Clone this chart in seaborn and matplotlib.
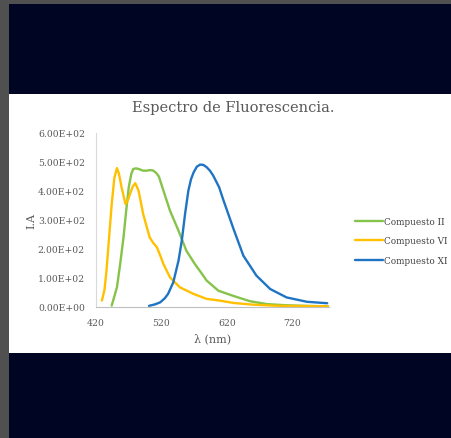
import matplotlib
matplotlib.use("Agg")
import matplotlib.pyplot as plt
from matplotlib.patches import Rectangle
import seaborn as sns
import pandas as pd

# ---- data ----
wl_II = [444, 452, 457, 462, 466, 470, 474, 477, 481, 485, 492, 497, 502, 507, 512, 516,
         523, 533, 546, 558, 571, 580, 589, 607, 630, 655, 681, 710, 740, 775]
int_II = [5, 68, 150, 240, 330, 413, 460, 476, 478, 476, 470, 470, 472, 471, 462, 450,
          401, 332, 263, 194, 148, 120, 91, 56, 38, 20, 10, 6, 4, 2]

wl_VI = [429, 433, 436, 440, 444, 448, 452, 455, 459, 465, 469, 472, 476, 480, 485, 492,
         497, 502, 507, 513, 518, 523, 533, 548, 569, 589, 609, 630, 660, 700, 740, 775]
int_VI = [22, 60, 125, 240, 355, 445, 479, 460, 413, 355, 370, 390, 415, 427, 401, 321,
          280, 240, 222, 206, 178, 148, 102, 68, 45, 28, 22, 14, 8, 4, 3, 2]

wl_XI = [501, 510, 518, 525, 530, 538, 546, 551, 556, 561, 565, 569, 574, 579, 584, 589,
         594, 599, 608, 614, 630, 645, 665, 686, 711, 742, 773]
int_XI = [4, 9, 16, 30, 45, 85, 160, 229, 321, 401, 440, 464, 484, 491, 490, 482,
          470, 453, 413, 372, 269, 177, 108, 62, 33, 18, 13]

series_names = ["Compuesto II", "Compuesto VI", "Compuesto XI"]
x_ticks = [420, 520, 620, 720]
y_ticks = [0, 100, 200, 300, 400, 500, 600]

title = "Espectro de Fluorescencia."
x_label = "λ (nm)"
y_label = "I.A"

df = pd.concat([
    pd.DataFrame({"wl": wl_II, "I": int_II, "serie": series_names[0]}),
    pd.DataFrame({"wl": wl_VI, "I": int_VI, "serie": series_names[1]}),
    pd.DataFrame({"wl": wl_XI, "I": int_XI, "serie": series_names[2]}),
], ignore_index=True)

sns.set_theme(style="white")
plt.rcParams["font.family"] = ["DejaVu Serif"]

W, H = 451, 439
fig = plt.figure(figsize=(W / 100, H / 100), dpi=100)
fig.patch.set_facecolor("#505050")
fig.patches.append(Rectangle((9 / W, 0), 1 - 9 / W, 1 - 5 / H, transform=fig.transFigure,
                             facecolor="#000524", edgecolor="none", zorder=-20))
fig.patches.append(Rectangle((9 / W, 1 - 354 / H), 1 - 9 / W, (354 - 95) / H,
                             transform=fig.transFigure, facecolor="white",
                             edgecolor="none", zorder=-10))

ax_l, ax_r, ax_t, ax_b = 96, 328.5, 134, 308
ax = fig.add_axes([ax_l / W, 1 - ax_b / H, (ax_r - ax_l) / W, (ax_b - ax_t) / H])
ax.set_zorder(5)
ax.set_facecolor("none")

palette = {"Compuesto II": "#86c34a", "Compuesto VI": "#ffc000", "Compuesto XI": "#1f74c4"}
sns.lineplot(data=df, x="wl", y="I", hue="serie", hue_order=series_names, palette=palette,
             sort=False, estimator=None, lw=1.7, ax=ax)

ax.set_xlim(420, 775)
ax.set_ylim(0, 600)
ax.set_xticks(x_ticks)
ax.set_xticklabels([str(v) for v in x_ticks])
ax.set_yticks(y_ticks)
ax.set_yticklabels([f"{v / 100:.2f}E+02" if v else "0.00E+00" for v in y_ticks])
ax.tick_params(axis="both", length=0, labelsize=6.7, colors="#595959")
ax.tick_params(axis="y", pad=8)
ax.tick_params(axis="x", pad=8)
for s in ["top", "right"]:
    ax.spines[s].set_visible(False)
ax.spines["left"].set_color("#d9d9d9")
ax.spines["bottom"].set_color("#bfbfbf")
ax.spines["left"].set_linewidth(0.8)
ax.spines["bottom"].set_linewidth(0.8)

ax.set_xlabel(x_label, fontsize=8, color="#595959", labelpad=4)
ax.set_ylabel(y_label, fontsize=8, color="#595959", labelpad=1)

fig.text(233 / W, 1 - 108 / H, title, ha="center", va="center", fontsize=10.5, color="#595959")

leg = ax.legend(loc="center left", bbox_to_anchor=(351 / W, 1 - 242 / H),
                bbox_transform=fig.transFigure, frameon=False, fontsize=6.4,
                handlelength=3.1, handletextpad=0.1, labelspacing=1.2, borderpad=0)
for t in leg.get_texts():
    t.set_color("#404040")

fig.savefig("out.png", dpi=100, facecolor=fig.get_facecolor())
